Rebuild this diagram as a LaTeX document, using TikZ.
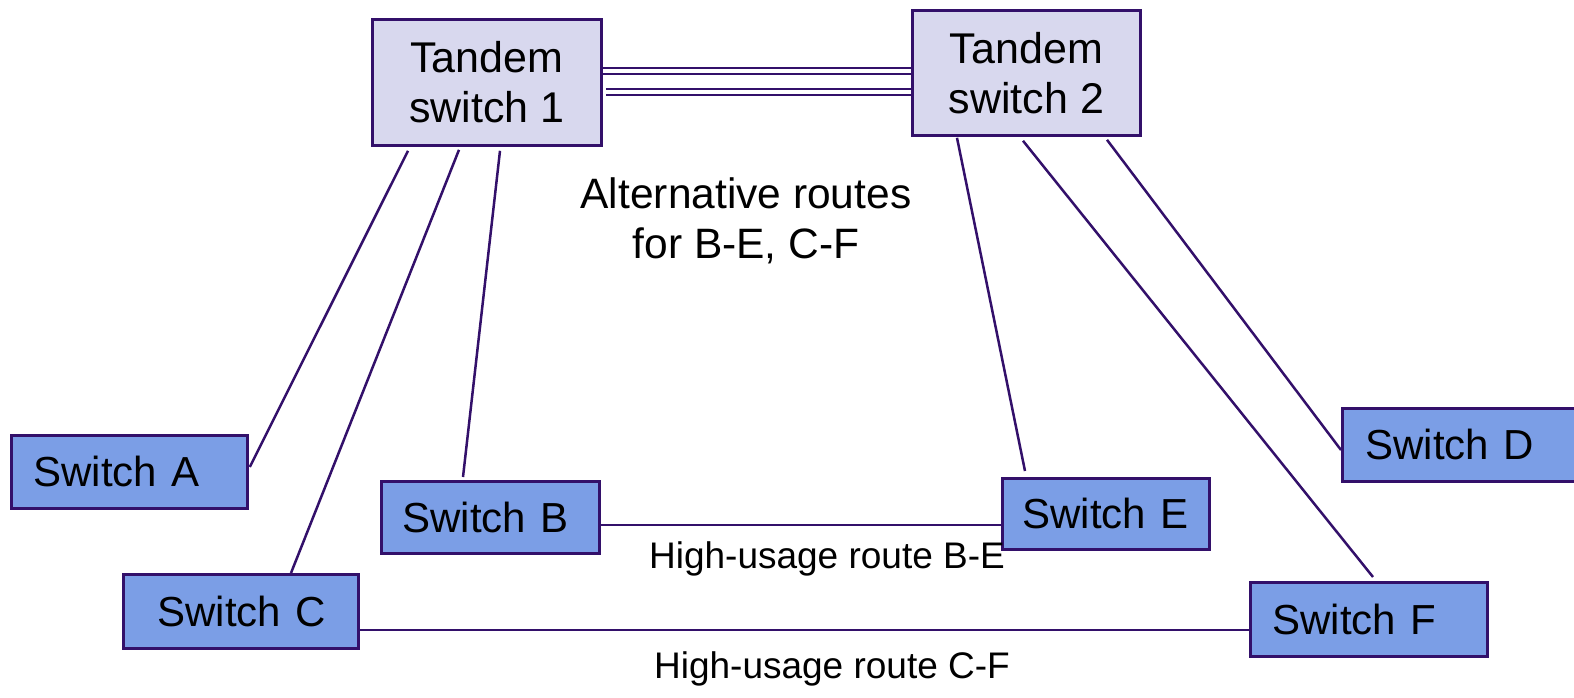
\documentclass[tikz,border=0pt]{standalone}
\usepackage{fontspec}
\setmainfont{Liberation Sans}
\usetikzlibrary{calc}
\definecolor{lnc}{HTML}{33106A}
\definecolor{tfill}{HTML}{D8D8EE}
\definecolor{sfill}{HTML}{7B9EE6}
\begin{document}
\begin{tikzpicture}[x=1pt,y=-1pt,
  tandem/.style={draw=lnc,line width=2.8pt,fill=tfill,anchor=north west,inner sep=0pt,align=center,
    font=\fontsize{43}{50}\selectfont},
  sw/.style={draw=lnc,line width=2.8pt,fill=sfill,anchor=north west,inner ysep=0pt,align=left,
    font=\fontsize{42}{50}\selectfont},
  conn/.style={draw=lnc,line width=2.5pt},
  lbl/.style={inner sep=0pt,align=center}]
\useasboundingbox (0,0) rectangle (1574,697);
\node[tandem,minimum width=229pt,minimum height=126pt] (t1) at (371,18) {Tandem\\switch 1};
\node[tandem,minimum width=228pt,minimum height=125pt] (t2) at (911,9) {Tandem\\switch 2};
\node[sw,minimum height=73pt,inner xsep=22pt,text width=192pt] (a) at (10,434) {\mbox{Switch A}};
\node[sw,minimum height=72pt,inner xsep=21pt,text width=176pt] (b) at (380,480) {\mbox{Switch B}};
\node[sw,minimum height=74pt,inner xsep=34pt,text width=167pt] (c) at (122,573) {\mbox{Switch C}};
\node[sw,minimum height=73pt,inner xsep=23pt,text width=187pt] (d) at (1341,407) {\mbox{Switch D}};
\node[sw,minimum height=71pt,inner xsep=20pt,text width=167pt] (e) at (1001,477) {\mbox{Switch E}};
\node[sw,minimum height=74pt,inner xsep=22pt,text width=193pt] (f) at (1249,581) {\mbox{Switch F}};
% double trunk lines
\draw[conn] ($(t1.north east)+(0,50)$) -- ($(t2.north west)+(0,59)$);
\draw[conn] ($(t1.north east)+(0,56)$) -- ($(t2.north west)+(0,65)$);
\draw[conn] ($(t1.north east)+(3,71)$) -- ($(t2.north west)+(3,80)$);
\draw[conn] ($(t1.north east)+(3,77)$) -- ($(t2.north west)+(3,86)$);
% tandem 1 links
\draw[conn] ($(t1.south west)+(37,4)$) -- ($(a.north east)+(1,33)$);
\draw[conn] ($(t1.south west)+(88,3)$) -- ($(c.north west)+(169,0)$);
\draw[conn] ($(t1.south west)+(129,4)$) -- ($(b.north west)+(83,-3)$);
% tandem 2 links
\draw[conn] ($(t2.south west)+(46,1)$) -- ($(e.north west)+(24,-6)$);
\draw[conn] ($(t2.south west)+(112,4)$) -- ($(f.north west)+(124,-4)$);
\draw[conn] ($(t2.south west)+(196,3)$) -- ($(d.north west)+(0,43)$);
% high usage routes
\draw[conn] ($(b.north east)+(0,45)$) -- ($(e.north west)+(0,48)$);
\draw[conn] ($(c.north east)+(0,57)$) -- ($(f.north west)+(0,49)$);
\node[lbl,font=\fontsize{42.5}{50}\selectfont] (alt) at (746,221) {Alternative routes\\for B-E, C-F};
\node[lbl,font=\fontsize{37}{44}\selectfont] (hbe) at (827,559) {High-usage route B-E};
\node[lbl,font=\fontsize{37}{44}\selectfont] (hcf) at (832,669) {High-usage route C-F};
\end{tikzpicture}
\end{document}
